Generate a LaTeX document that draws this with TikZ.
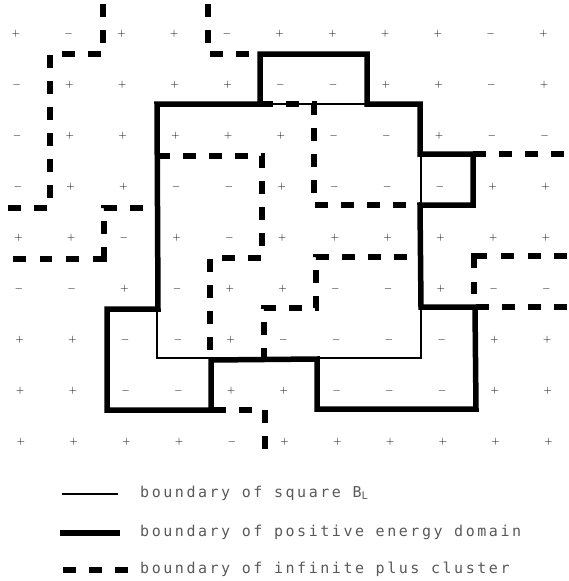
\documentclass[tikz,border=0pt]{standalone}
\usepackage{fontspec}
\newfontfamily\legfont[LetterSpace=17]{DejaVu Sans Mono}
\begin{document}
\begin{tikzpicture}[x=1pt,y=-1pt,
  sign/.style={inner sep=0pt, font=\fontsize{11}{11}\selectfont},
  thinb/.style={line width=1.6pt},
  thickb/.style={line width=5.5pt, line join=miter},
  dsh/.style={line width=6.5pt, dash pattern=on 13pt off 13pt},
  legtext/.style={anchor=base west, inner sep=0pt, text=black!65, font=\legfont\fontsize{15}{15}\selectfont}]
\useasboundingbox (0,0) rectangle (568,581);
% signs
\foreach \row [count=\j from 0] in {
  {p,m,p,p,m,p,p,p,p,m,p},
  {m,p,p,p,p,m,m,p,p,m,p},
  {m,p,p,p,p,p,m,m,p,m,m},
  {m,p,p,m,m,p,m,m,m,p,p},
  {p,p,m,p,m,p,p,p,p,p,p},
  {m,m,p,m,p,p,m,m,p,m,m},
  {p,p,m,m,p,m,m,m,m,p,p},
  {p,p,m,m,p,p,m,m,m,p,p},
  {p,p,p,p,m,p,p,p,p,p,p}}{
  \foreach \c [count=\i from 0] in \row {
    \node[sign] (s\j-\i) at ({16+52.75*\i+0.6*\j},{34+51*\j}) {\if\c p$+$\else$-$\fi};
  }
}
% square B_L
\draw[thinb] (157,104) rectangle (421,358);
% positive energy domain
\draw[thickb] (260,54) -- (367,54) -- (367,104) -- (420,104) -- (420,154) -- (473,154)
  -- (473,205) -- (420,205) -- (421,307) -- (475,307) -- (476,409) -- (317,409)
  -- (317,359) -- (211,360) -- (211,410) -- (107,410) -- (107,309) -- (158,309)
  -- (157,104) -- (260,104) -- cycle;
% infinite plus cluster
\draw[dsh, dash phase=22pt] (103,0) -- (103,54) -- (50,54) -- (50,208) -- (0,208);
\draw[dsh, dash pattern=on 13pt off 13pt on 13pt off 13pt on 13pt off 13pt on 23pt off 14pt on 13pt off 14pt on 12pt off 14pt on 13pt off 14pt, dash phase=181pt]
  (157,208) -- (104,208) -- (104,259) -- (0,259);
\draw[dsh, dash phase=22pt] (208,0) -- (208,54) -- (260,54);
\draw[dsh] (157,156) -- (262,156) -- (262,258) -- (210,258) -- (210,359);
\draw[dsh] (260,104) -- (314,104) -- (314,205) -- (420,205);
\draw[dsh] (473,154) -- (568,154);
\draw[dsh, dash pattern=on 12pt off 14pt on 25pt off 14pt on 13pt off 14pt on 13pt off 13pt on 13pt off 13pt, dash phase=131pt]
  (474,307) -- (474,256) -- (568,256);
\draw[dsh] (476,307) -- (568,307);
\draw[dsh, dash phase=13pt] (420,257) -- (316,257) -- (316,308) -- (264,308) -- (264,359);
\draw[dsh] (265,449) -- (265,410) -- (212,410);
% legend
\draw[thinb] (62,494) -- (118,494);
\draw[thickb] (60,533) -- (120,533);
\draw[dsh] (63,570) -- (130,570);
\node[legtext] (l1) at (140,497) {boundary of square B\textsubscript{L}};
\node[legtext] (l2) at (140,536) {boundary of positive energy domain};
\node[legtext] (l3) at (140,573) {boundary of infinite plus cluster};
\end{tikzpicture}
\end{document}
